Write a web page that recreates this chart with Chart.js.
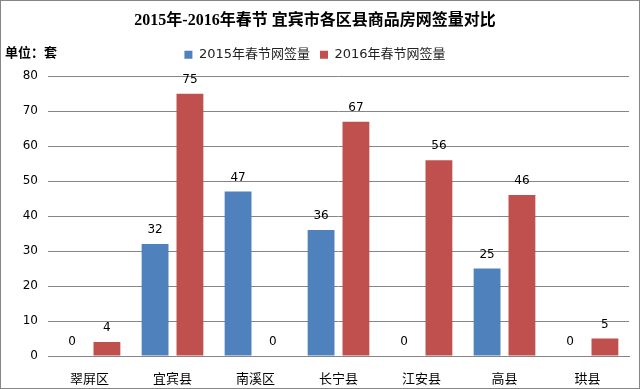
<!DOCTYPE html>
<html>
<head>
<meta charset="utf-8">
<script src="https://cdn.jsdelivr.net/npm/chart.js@4"></script>
<style>
  html, body { margin: 0; padding: 0; background: #fff; }
  #wrap { width: 640px; height: 389px; box-sizing: border-box; border: 1px solid #868686; }
</style>
</head>
<body>
<div id="wrap"><canvas id="barChart" width="638" height="387"></canvas></div>
<script>
const categories = ["翠屏区", "宜宾县", "南溪区", "长宁县", "江安县", "高县", "珙县"];
const sales2015 = [0, 32, 47, 36, 0, 25, 0];
const sales2016 = [4, 75, 0, 67, 56, 46, 5];
const seriesNames = ["2015年春节网签量", "2016年春节网签量"];
const yTicks = { min: 0, max: 80, step: 10 };

const numFont = "'DejaVu Sans', 'Noto Sans CJK SC', sans-serif";

// value labels on top of bars
const valueLabels = {
  id: "valueLabels",
  afterDatasetsDraw(chart) {
    const ctx = chart.ctx;
    ctx.save();
    ctx.font = "12px " + numFont;
    ctx.fillStyle = "#000";
    ctx.textAlign = "center";
    ctx.textBaseline = "bottom";
    chart.data.datasets.forEach((ds, i) => {
      chart.getDatasetMeta(i).data.forEach((bar, j) => {
        ctx.fillText(ds.data[j], bar.x, bar.y - 8);
      });
    });
    ctx.restore();
  }
};

// "单位：套" at top left, and a bit more room under the legend
const unitLabel = {
  id: "unitLabel",
  beforeLayout(chart) {
    const lg = chart.legend;
    if (lg && !lg._patched) {
      const fit = lg.fit;
      lg.fit = function () { fit.call(this); this.height += 5; };
      lg._patched = true;
    }
  },
  afterDraw(chart) {
    const ctx = chart.ctx;
    ctx.save();
    ctx.font = "bold 13px 'Noto Sans CJK SC', sans-serif";
    ctx.fillStyle = "#000";
    ctx.textBaseline = "middle";
    ctx.fillText("单位：套", 4, 51);
    ctx.restore();
  }
};

new Chart(document.getElementById("barChart"), {
  type: "bar",
  data: {
    labels: categories,
    datasets: [
      { label: seriesNames[0], data: sales2015, backgroundColor: "#4F81BD" },
      { label: seriesNames[1], data: sales2016, backgroundColor: "#C0504D" }
    ]
  },
  options: {
    responsive: false,
    animation: false,
    categoryPercentage: 0.84,
    barPercentage: 0.77,
    layout: { padding: { left: 0, right: 10, top: 0, bottom: 0 } },
    plugins: {
      title: {
        display: true,
        text: "2015年-2016年春节 宜宾市各区县商品房网签量对比",
        color: "#000",
        font: { family: "'Liberation Serif', 'Noto Sans CJK SC', serif", size: 16, weight: "bold" },
        padding: { top: 10, bottom: 8 }
      },
      legend: {
        display: true,
        labels: {
          boxWidth: 8,
          boxHeight: 8,
          color: "#222",
          padding: 10,
          font: { family: numFont, size: 13 }
        }
      },
      tooltip: { enabled: false }
    },
    scales: {
      x: {
        afterFit(scale) { scale.height = 32; },
        grid: { display: false },
        border: { color: "#868686" },
        ticks: { color: "#000", font: { family: "'Noto Sans CJK SC', sans-serif", size: 13 }, padding: 6 }
      },
      y: {
        min: yTicks.min,
        max: yTicks.max,
        afterFit(scale) { scale.width = 47; },
        grid: { color: "#868686", drawTicks: false },
        border: { display: false },
        ticks: { stepSize: yTicks.step, color: "#000", padding: 10, font: { family: numFont, size: 12 } }
      }
    }
  },
  plugins: [valueLabels, unitLabel]
});
</script>
</body>
</html>
